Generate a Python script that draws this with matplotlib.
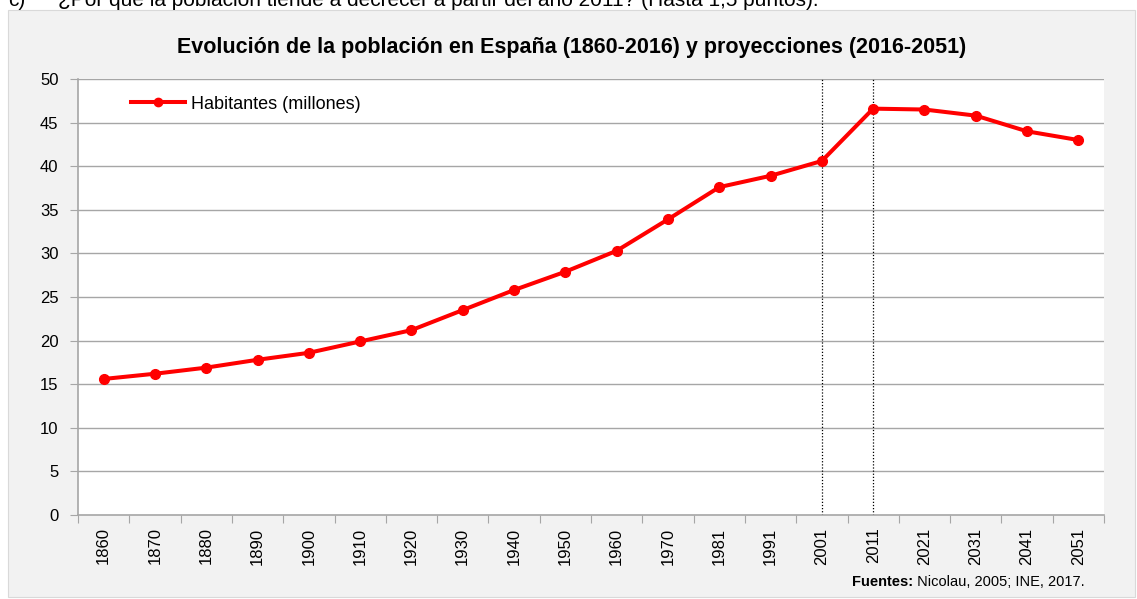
import matplotlib
matplotlib.use("Agg")
import matplotlib.pyplot as plt
from matplotlib import font_manager as fm
from matplotlib.lines import Line2D
import numpy as np

years = ["1860", "1870", "1880", "1890", "1900", "1910", "1920", "1930", "1940", "1950",
         "1960", "1970", "1981", "1991", "2001", "2011", "2021", "2031", "2041", "2051"]
habitantes = [15.6, 16.2, 16.9, 17.8, 18.6, 19.9, 21.2, 23.5, 25.8, 27.9,
              30.3, 33.9, 37.6, 38.9, 40.6, 46.6, 46.5, 45.8, 44.0, 43.0]
yticks = [0, 5, 10, 15, 20, 25, 30, 35, 40, 45, 50]
marked_years = ["2001", "2011"]

names = {f.name for f in fm.fontManager.ttflist}
narrow = "Liberation Sans Narrow" if "Liberation Sans Narrow" in names else "Liberation Sans"
plt.rcParams['font.family'] = [narrow, 'DejaVu Sans']

W, H = 1137, 599
fig = plt.figure(figsize=(W / 100, H / 100), dpi=100)
fig.patch.set_facecolor("white")

# gray chart panel
panel = plt.Rectangle((8 / W, 2 / H), 1127 / W, 587 / H, transform=fig.transFigure,
                      facecolor="#F2F2F2", edgecolor="#D9D9D9", lw=0.8, zorder=-10)
fig.patches.append(panel)

# question text at the very top (cut off in the reference)
fig.text(8 / W, 1 - 6 / H, "c)", fontsize=15, family=["Liberation Sans", "DejaVu Sans"],
         va="baseline", ha="left")
fig.text(58 / W, 1 - 6 / H, "¿Por qué la población tiende a decrecer a partir del año 2011? (Hasta 1,5 puntos).",
         fontsize=15, family=["Liberation Sans", "DejaVu Sans"], va="baseline", ha="left")

left, right, top, bottom = 78, 1104, 79, 515
ax = fig.add_axes([left / W, 1 - bottom / H, (right - left) / W, (bottom - top) / H])
ax.set_facecolor("white")

x = np.arange(len(years))
for yv in yticks[1:]:
    ax.axhline(yv, color="#A6A6A6", lw=1.0, zorder=1)

for my in marked_years:
    ax.axvline(years.index(my), color="black", lw=0.9, ls=(0, (1, 1.5)), zorder=2)

ax.plot(x, habitantes, color="#FF0000", lw=2.9, marker="o", markersize=7,
        zorder=3, solid_capstyle="round")

ax.set_xlim(-0.5, len(years) - 0.5)
ax.set_ylim(0, 50)
ax.set_yticks(yticks)
ax.set_yticklabels([str(v) for v in yticks], fontsize=12)
ax.set_xticks(np.arange(len(years) + 1) - 0.5)
ax.set_xticklabels([])
ax.set_xticks(x, minor=True)
ax.set_xticklabels(years, minor=True, rotation=90, fontsize=12)
ax.tick_params(axis="x", which="major", length=6, color="#A6A6A6", direction="out")
ax.tick_params(axis="x", which="minor", length=0, pad=9)
ax.tick_params(axis="y", length=6, color="#A6A6A6", direction="out", pad=8)

for s in ["top", "right"]:
    ax.spines[s].set_visible(False)
for s in ["left", "bottom"]:
    ax.spines[s].set_color("#A6A6A6")
    ax.spines[s].set_linewidth(1.2)

handle = Line2D([], [], color="#FF0000", lw=2.9, marker="o", markersize=6)
ax.legend([handle], ["Habitantes (millones)"], loc="upper left",
          bbox_to_anchor=(53 / 1026, 0.962), frameon=False, borderaxespad=0,
          borderpad=0, fontsize=13, handlelength=3.0, handletextpad=0.3)

fig.text(572 / W, 1 - 48 / H, "Evolución de la población en España (1860-2016) y proyecciones (2016-2051)",
         fontsize=15.5, fontweight="bold", ha="center", va="center")

t1 = fig.text(1085 / W, 1 - 582 / H, " Nicolau, 2005; INE, 2017.", fontsize=10.5,
              ha="right", va="center")
fig.canvas.draw()
bb = t1.get_window_extent()
fig.text(bb.x0 / W, 1 - 582 / H, "Fuentes:", fontsize=10.5, fontweight="bold",
         ha="right", va="center")

fig.savefig("out.png", dpi=100)
